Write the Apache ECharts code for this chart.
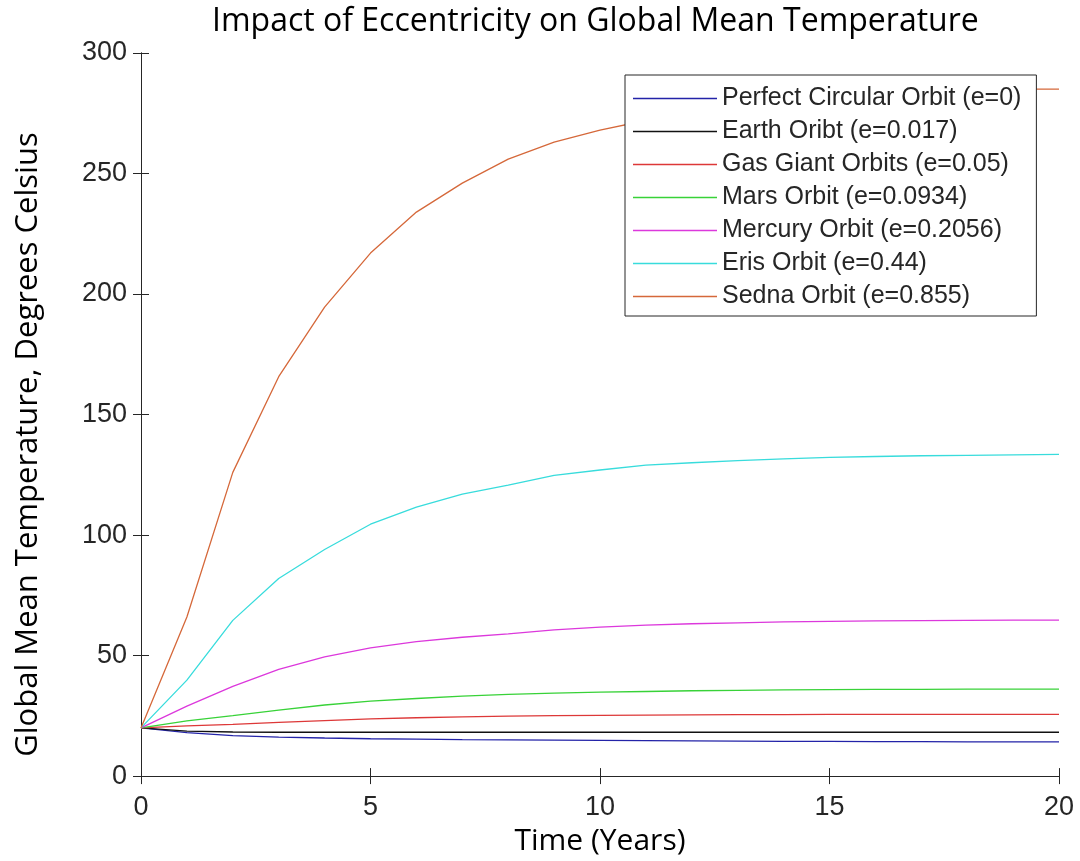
<!DOCTYPE html>
<html>
<head>
<meta charset="utf-8">
<title>Impact of Eccentricity on Global Mean Temperature</title>
<script src="https://cdn.jsdelivr.net/npm/echarts@6/dist/echarts.min.js"></script>
<style>
  html, body { margin: 0; padding: 0; background: #ffffff; }
  #chart { width: 1080px; height: 861px; }
</style>
</head>
<body>
<div id="chart"></div>
<script>
// time in years
const years = [0, 1, 2, 3, 4, 5, 6, 7, 8, 9, 10, 11, 12, 13, 14, 15, 16, 17, 18, 19, 20];

const seriesNames = [
  "Perfect Circular Orbit (e=0)",
  "Earth Oribt (e=0.017)",
  "Gas Giant Orbits (e=0.05)",
  "Mars Orbit (e=0.0934)",
  "Mercury Orbit (e=0.2056)",
  "Eris Orbit (e=0.44)",
  "Sedna Orbit (e=0.855)",
];

// temperature, degrees celsius
const circular = [20, 18.0, 16.8, 16.2, 15.8, 15.5, 15.3, 15.1, 15.0, 14.9, 14.8, 14.7, 14.6, 14.5, 14.4, 14.4, 14.3, 14.3, 14.2, 14.2, 14.2];
const earth = [20, 18.7, 18.3, 18.2, 18.2, 18.2, 18.2, 18.2, 18.2, 18.2, 18.2, 18.2, 18.2, 18.2, 18.2, 18.2, 18.2, 18.2, 18.2, 18.2, 18.2];
const gasGiant = [20, 20.8, 21.5, 22.3, 23.0, 23.7, 24.2, 24.6, 24.9, 25.1, 25.2, 25.3, 25.4, 25.5, 25.5, 25.6, 25.6, 25.6, 25.6, 25.6, 25.6];
const mars = [20, 22.9, 25.1, 27.4, 29.5, 31.1, 32.2, 33.2, 33.9, 34.4, 34.8, 35.1, 35.4, 35.6, 35.8, 35.9, 36.0, 36.0, 36.1, 36.1, 36.1];
const mercury = [20, 29, 37.2, 44.3, 49.5, 53.2, 55.8, 57.6, 59.0, 60.7, 61.8, 62.6, 63.2, 63.6, 64.0, 64.2, 64.4, 64.5, 64.6, 64.7, 64.7];
const eris = [20, 39.8, 64.6, 82, 94, 104.5, 111.6, 117, 120.7, 124.8, 127, 129, 130, 130.9, 131.6, 132.2, 132.6, 132.9, 133.1, 133.3, 133.5];
const sedna = [20, 66, 126, 165.7, 194.6, 217, 234, 246, 256, 263, 268, 272, 276, 279, 281, 282.5, 283.5, 284, 284.5, 285, 285];

const seriesValues = [circular, earth, gasGiant, mars, mercury, eris, sedna];
const lineColors = ["#2323a8", "#111111", "#dd3838", "#38d238", "#dc38dc", "#38dcdc", "#d5683a"];

const xTicks = { min: 0, max: 20, interval: 5 };
const yTicks = { min: 0, max: 300, interval: 50 };

const chartInstance = echarts.init(document.getElementById("chart"), null, { renderer: "canvas" });

const axisColor = "#262626";
const labelFont = "'Liberation Sans', Arial, sans-serif";
const titleFont = "'Open Sans', 'Noto Sans', sans-serif";

const plainAxis = {
  axisLine: { show: true, lineStyle: { color: axisColor, width: 1 } },
  axisTick: { show: true, inside: true, length: 8, lineStyle: { color: axisColor } },
  splitLine: { show: false },
};

const option = {
  backgroundColor: "#ffffff",
  animation: false,
  title: {
    text: "Impact of Eccentricity on Global Mean Temperature",
    left: 207,
    top: 1,
    textStyle: { fontFamily: titleFont, fontWeight: "normal", fontSize: 32, color: "#000000" },
  },
  grid: { left: 141, top: 53, right: 21, bottom: 83 },
  legend: {
    data: seriesNames,
    orient: "vertical",
    left: 625,
    top: 75,
    padding: [11, 15, 7, 8],
    icon: "rect",
    itemWidth: 84,
    itemHeight: 1.5,
    itemGap: 8,
    backgroundColor: "#ffffff",
    borderColor: axisColor,
    borderWidth: 1,
    textStyle: { fontFamily: labelFont, fontSize: 25, color: axisColor },
  },
  xAxis: [
    Object.assign({}, plainAxis, {
      type: "value",
      min: xTicks.min,
      max: xTicks.max,
      interval: xTicks.interval,
      name: "Time (Years)",
      nameLocation: "middle",
      nameGap: 45,
      nameTextStyle: { fontFamily: titleFont, fontSize: 30, color: "#000000" },
      axisLabel: { fontFamily: labelFont, fontSize: 27, color: axisColor, margin: 18 },
    }),
    Object.assign({}, plainAxis, {
      type: "value",
      position: "top",
      min: xTicks.min,
      max: xTicks.max,
      interval: xTicks.interval,
      axisLabel: { show: false },
    }),
  ],
  yAxis: [
    Object.assign({}, plainAxis, {
      type: "value",
      min: yTicks.min,
      max: yTicks.max,
      interval: yTicks.interval,
      name: "Global Mean Temperature, Degrees Celsius",
      nameLocation: "middle",
      nameGap: 97,
      nameTextStyle: { fontFamily: titleFont, fontSize: 31, color: "#000000", padding: [0, 60, 0, 0] },
      axisLabel: { fontFamily: labelFont, fontSize: 27, color: axisColor, margin: 14 },
    }),
    Object.assign({}, plainAxis, {
      type: "value",
      position: "right",
      min: yTicks.min,
      max: yTicks.max,
      interval: yTicks.interval,
      axisLabel: { show: false },
    }),
  ],
  series: seriesNames.map((name, i) => ({
    name: name,
    type: "line",
    xAxisIndex: 0,
    yAxisIndex: 0,
    symbol: "none",
    smooth: false,
    color: lineColors[i],
    lineStyle: { width: 1.3, color: lineColors[i] },
    data: years.map((t, k) => [t, seriesValues[i][k]]),
  })),
};

chartInstance.setOption(option);
</script>
</body>
</html>
